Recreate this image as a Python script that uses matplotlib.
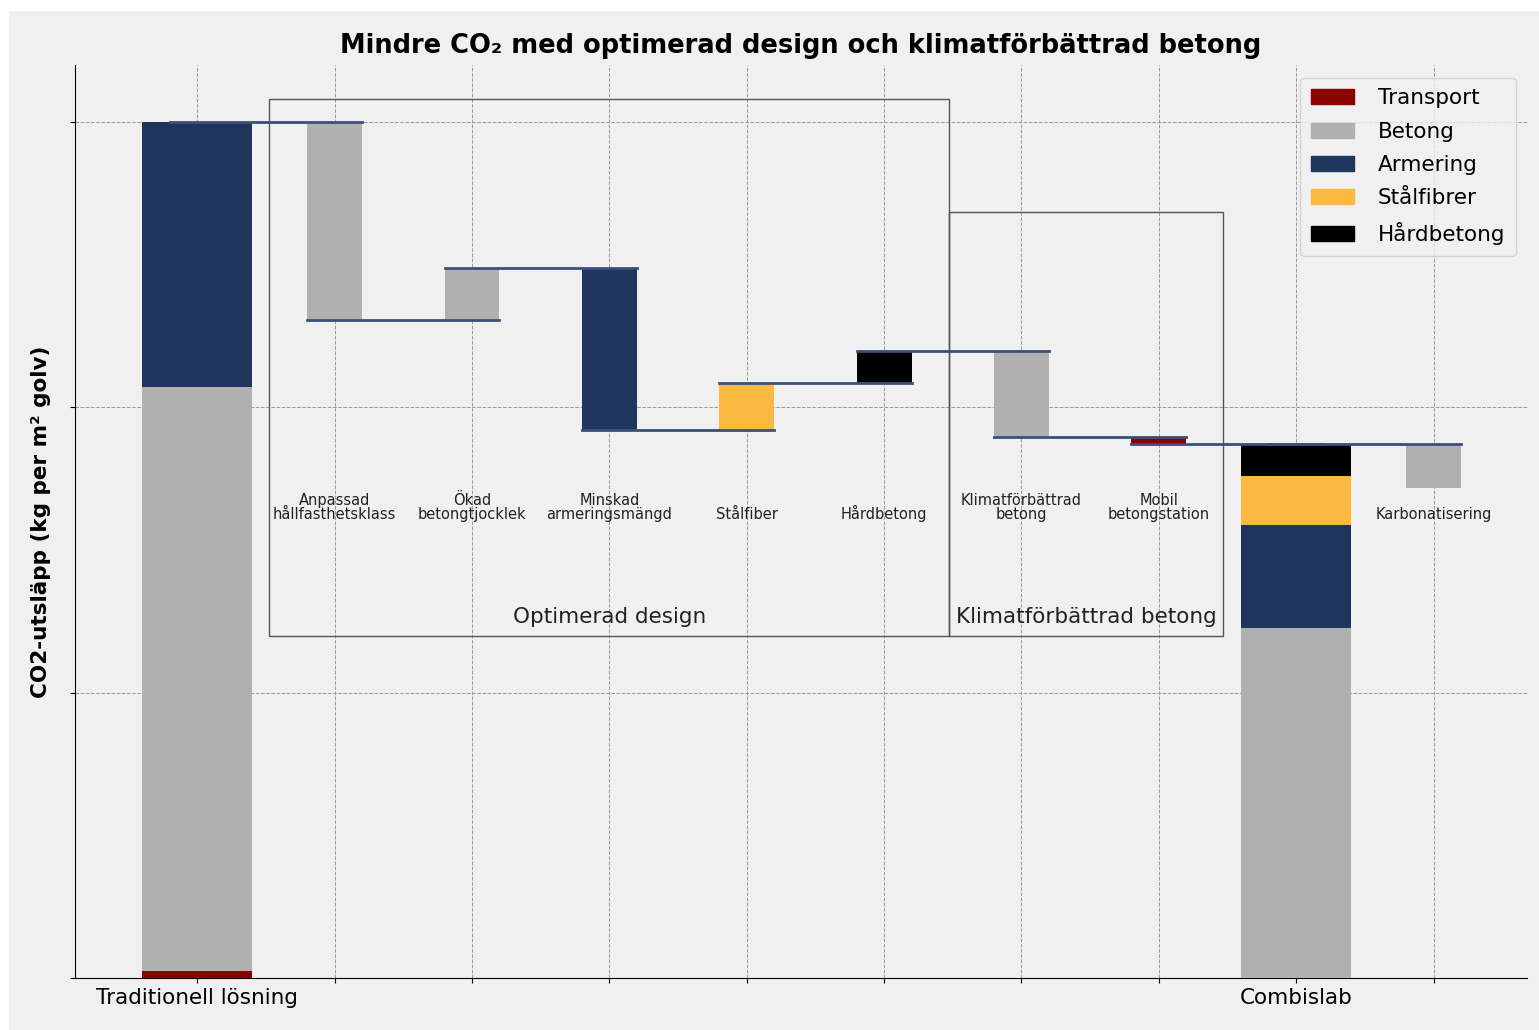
import numpy as np
import matplotlib.pyplot as plt
from matplotlib.patches import Rectangle, Patch

# colours per component
c_transport = '#8b0000'
c_betong = '#b0b0b0'
c_armering = '#1f355e'
c_fiber = '#fbb942'
c_hard = '#000000'
c_line = '#3b5078'

# start bar: traditional solution (stacked)
trad_parts = [0.25, 20.45, 9.3]           # transport, betong, armering
trad_colors = [c_transport, c_betong, c_armering]

# waterfall steps
steps = ['Anpassad\nhållfasthetsklass', 'Ökad\nbetongtjocklek', 'Minskad\narmeringsmängd',
         'Stålfiber', 'Hårdbetong', 'Klimatförbättrad\nbetong', 'Mobil\nbetongstation']
step_vals = [-6.95, 1.83, -5.69, 1.68, 1.09, -3.0, -0.25]
step_colors = [c_betong, c_betong, c_armering, c_fiber, c_hard, c_betong, c_transport]

# end bar: Combislab (stacked)
combi_parts = [12.28, 3.61, 1.69, 1.12]   # betong, armering, stålfiber, hårdbetong
combi_colors = [c_betong, c_armering, c_fiber, c_hard]

# last step
karb_label = 'Karbonatisering'
karb_val = -1.54

xticks = np.arange(10)
xticklabels = ['Traditionell lösning', '', '', '', '', '', '', '', 'Combislab', '']

fig = plt.figure(figsize=(15.39, 10.30), dpi=100, facecolor='white')
fig.patches.append(Rectangle((9 / 1539, 0), 1, 1 - 11 / 1030, transform=fig.transFigure,
                             facecolor='#f0f0f0', edgecolor='none', zorder=-10))
ax = fig.add_axes([75 / 1539, 1 - 978 / 1030, (1527 - 75) / 1539, (978 - 65) / 1030])
ax.set_facecolor('#f0f0f0')

# traditional stacked bar
bottom = 0
for v, c in zip(trad_parts, trad_colors):
    ax.bar(0, v, bottom=bottom, width=0.8, color=c, zorder=3)
    bottom += v
level = bottom
ax.plot([-0.2, 1.2], [level, level], color=c_line, lw=2, zorder=4)

# steps
for i, (v, c) in enumerate(zip(step_vals, step_colors)):
    x = i + 1
    ax.bar(x, v, bottom=level, width=0.4, color=c, zorder=3)
    level += v
    ax.plot([x - 0.2, x + 1.2], [level, level], color=c_line, lw=2, zorder=4)
    ax.text(x, 16.0, steps[i], ha='center', va='bottom', fontsize=10.5, color='#222222',
            linespacing=0.85)

# combislab stacked bar
bottom = 0
for v, c in zip(combi_parts, combi_colors):
    ax.bar(8, v, bottom=bottom, width=0.8, color=c, zorder=3)
    bottom += v
ax.plot([7.8, 9.2], [level, level], color=c_line, lw=2, zorder=4)

# karbonatisering
ax.bar(9, karb_val, bottom=level, width=0.4, color=c_betong, zorder=3)
ax.text(9, 16.0, karb_label, ha='center', va='bottom', fontsize=10.5, color='#222222')

# group boxes
ax.add_patch(Rectangle((0.525, 12.0), 4.945, 18.8, fill=False, edgecolor='#555555', lw=1, zorder=2))
ax.add_patch(Rectangle((5.47, 12.0), 2.0, 14.84, fill=False, edgecolor='#555555', lw=1, zorder=2))
ax.text(3.0, 12.3, 'Optimerad design', ha='center', va='bottom', fontsize=15.5, color='#222222')
ax.text(6.47, 12.3, 'Klimatförbättrad betong', ha='center', va='bottom', fontsize=15.5, color='#222222')

ax.set_xlim(-0.89, 9.68)
ax.set_ylim(0, 32.0)
ax.set_xticks(xticks)
ax.set_xticklabels(xticklabels, fontsize=15.5)
ax.set_yticks([0, 10, 20, 30])
ax.set_yticklabels([])
ax.grid(True, linestyle='--', color='#999999', lw=0.7, zorder=0)
ax.spines['top'].set_visible(False)
ax.spines['right'].set_visible(False)

ax.set_ylabel('CO2-utsläpp (kg per m² golv)', fontsize=15.5, fontweight='bold', labelpad=10)
ax.set_title('Mindre CO₂ med optimerad design och klimatförbättrad betong',
             fontsize=18.5, fontweight='bold', pad=9)

handles = [Patch(color=c_transport, label='Transport'), Patch(color=c_betong, label='Betong'),
           Patch(color=c_armering, label='Armering'), Patch(color=c_fiber, label='Stålfibrer'),
           Patch(color=c_hard, label='Hårdbetong')]
ax.legend(handles=handles, loc='upper right', fontsize=15.5, facecolor='#f0f0f0',
          bbox_to_anchor=(1.0, 0.998), handlelength=2.0, handleheight=0.7,
          labelspacing=0.62, handletextpad=1.1, borderpad=0.5)

fig.savefig('out.png', dpi=100, facecolor=fig.get_facecolor())
